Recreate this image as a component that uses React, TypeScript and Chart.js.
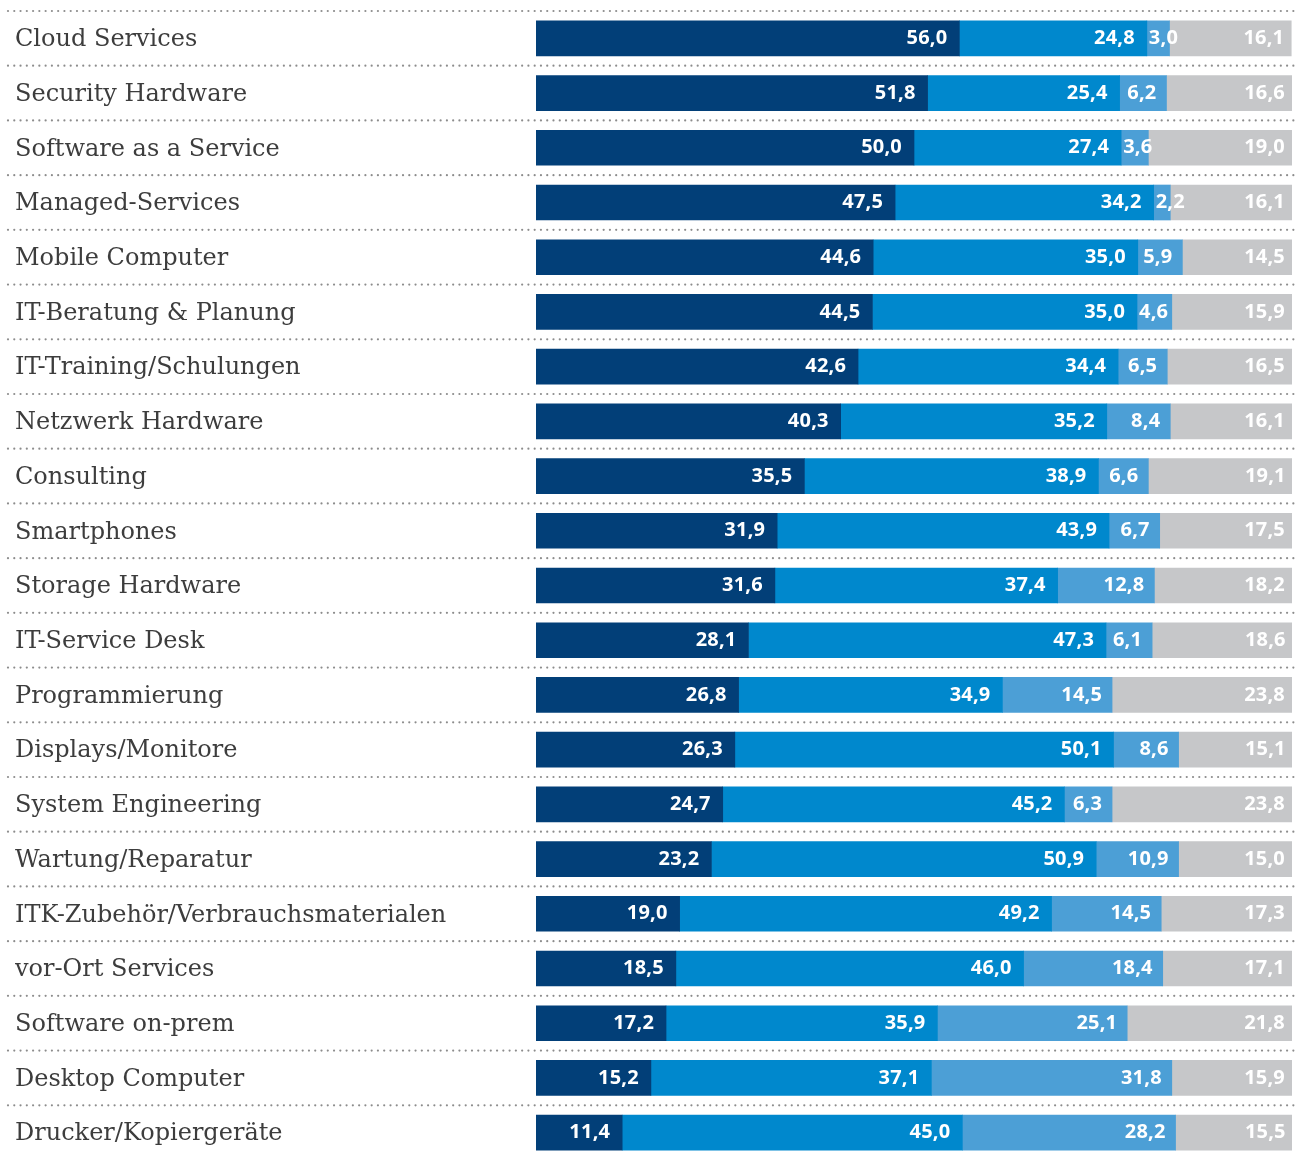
import React, { useEffect, useRef } from "react";
import { Chart, registerables } from "chart.js";

Chart.register(...registerables);

const categories: string[] = [
  "Cloud Services",
  "Security Hardware",
  "Software as a Service",
  "Managed-Services",
  "Mobile Computer",
  "IT-Beratung & Planung",
  "IT-Training/Schulungen",
  "Netzwerk Hardware",
  "Consulting",
  "Smartphones",
  "Storage Hardware",
  "IT-Service Desk",
  "Programmierung",
  "Displays/Monitore",
  "System Engineering",
  "Wartung/Reparatur",
  "ITK-Zubehör/Verbrauchsmaterialen",
  "vor-Ort Services",
  "Software on-prem",
  "Desktop Computer",
  "Drucker/Kopiergeräte",
];

const series1: number[] = [56.0, 51.8, 50.0, 47.5, 44.6, 44.5, 42.6, 40.3, 35.5, 31.9, 31.6, 28.1, 26.8, 26.3, 24.7, 23.2, 19.0, 18.5, 17.2, 15.2, 11.4];
const series2: number[] = [24.8, 25.4, 27.4, 34.2, 35.0, 35.0, 34.4, 35.2, 38.9, 43.9, 37.4, 47.3, 34.9, 50.1, 45.2, 50.9, 49.2, 46.0, 35.9, 37.1, 45.0];
const series3: number[] = [3.0, 6.2, 3.6, 2.2, 5.9, 4.6, 6.5, 8.4, 6.6, 6.7, 12.8, 6.1, 14.5, 8.6, 6.3, 10.9, 14.5, 18.4, 25.1, 31.8, 28.2];
const series4: number[] = [16.1, 16.6, 19.0, 16.1, 14.5, 15.9, 16.5, 16.1, 19.1, 17.5, 18.2, 18.6, 23.8, 15.1, 23.8, 15.0, 17.3, 17.1, 21.8, 15.9, 15.5];

const colors = ["#023f78", "#0088cd", "#4c9fd6", "#c6c7c9"];
const labelPad = [12, 12, 10, 7];

const dottedLines = {
  id: "dottedLines",
  beforeDatasetsDraw(chart: any) {
    const ctx = chart.ctx;
    const y = chart.scales.y;
    const pitch = y.getPixelForValue(1) - y.getPixelForValue(0);
    ctx.save();
    ctx.fillStyle = "#8c8c8c";
    for (let i = 0; i <= categories.length; i++) {
      const yy = y.getPixelForValue(i) - pitch / 2;
      for (let x = 8; x <= 1294; x += 6.27) {
        ctx.beginPath();
        ctx.arc(x, yy, 1.1, 0, Math.PI * 2);
        ctx.fill();
      }
    }
    ctx.restore();
  },
};

const valueLabels = {
  id: "valueLabels",
  afterDatasetsDraw(chart: any) {
    const ctx = chart.ctx;
    ctx.save();
    ctx.font = "bold 20px 'Open Sans'";
    try {
      (ctx as any).letterSpacing = "0.2px";
    } catch (e) {}
    ctx.fillStyle = "#ffffff";
    ctx.textBaseline = "middle";
    chart.data.datasets.forEach((ds: any, di: number) => {
      const meta = chart.getDatasetMeta(di);
      meta.data.forEach((bar: any, i: number) => {
        const { x, y, base } = bar.getProps(["x", "y", "base"], true);
        const txt = ds.data[i].toFixed(1).replace(".", ",");
        const w = ctx.measureText(txt).width;
        const seg = x - base;
        if (seg >= w + labelPad[di] + 2) {
          ctx.textAlign = "right";
          ctx.fillText(txt, x - labelPad[di], y);
        } else {
          ctx.textAlign = "left";
          ctx.fillText(txt, base + 2, y);
        }
      });
    });
    ctx.restore();
  },
};

export default function App() {
  const ref = useRef<HTMLCanvasElement>(null);
  useEffect(() => {
    if (!ref.current) return;
    const chart = new Chart(ref.current, {
      type: "bar",
      data: {
        labels: categories,
        datasets: [series1, series2, series3, series4].map((d, i) => ({
          label: "S" + (i + 1),
          data: d,
          backgroundColor: colors[i],
          borderWidth: 0,
          barThickness: 35,
        })),
      },
      options: {
        indexAxis: "y",
        responsive: false,
        animation: false,
        devicePixelRatio: 1,
        layout: { padding: { left: 15, right: 9, top: 11, bottom: 5 } },
        plugins: { legend: { display: false }, tooltip: { enabled: false } },
        scales: {
          x: { stacked: true, min: 0, max: 100, display: false },
          y: {
            stacked: true,
            grid: { display: false },
            border: { display: false },
            ticks: {
              crossAlign: "far",
              autoSkip: false,
              color: "#3d3d3d",
              font: { family: "'DejaVu Serif'", size: 24 },
              padding: 0,
              labelOffset: 1.5,
            },
            afterFit(scale: any) {
              scale.width = 521;
              scale.paddingTop = 0;
              scale.paddingBottom = 0;
            },
          },
        },
      },
      plugins: [dottedLines, valueLabels],
    });
    return () => chart.destroy();
  }, []);
  return (
    <div style={{ position: "absolute", left: 0, top: 0, width: 1301, height: 1155, overflow: "hidden", background: "#fff" }}>
      <canvas ref={ref} width={1301} height={1165} />
    </div>
  );
}
